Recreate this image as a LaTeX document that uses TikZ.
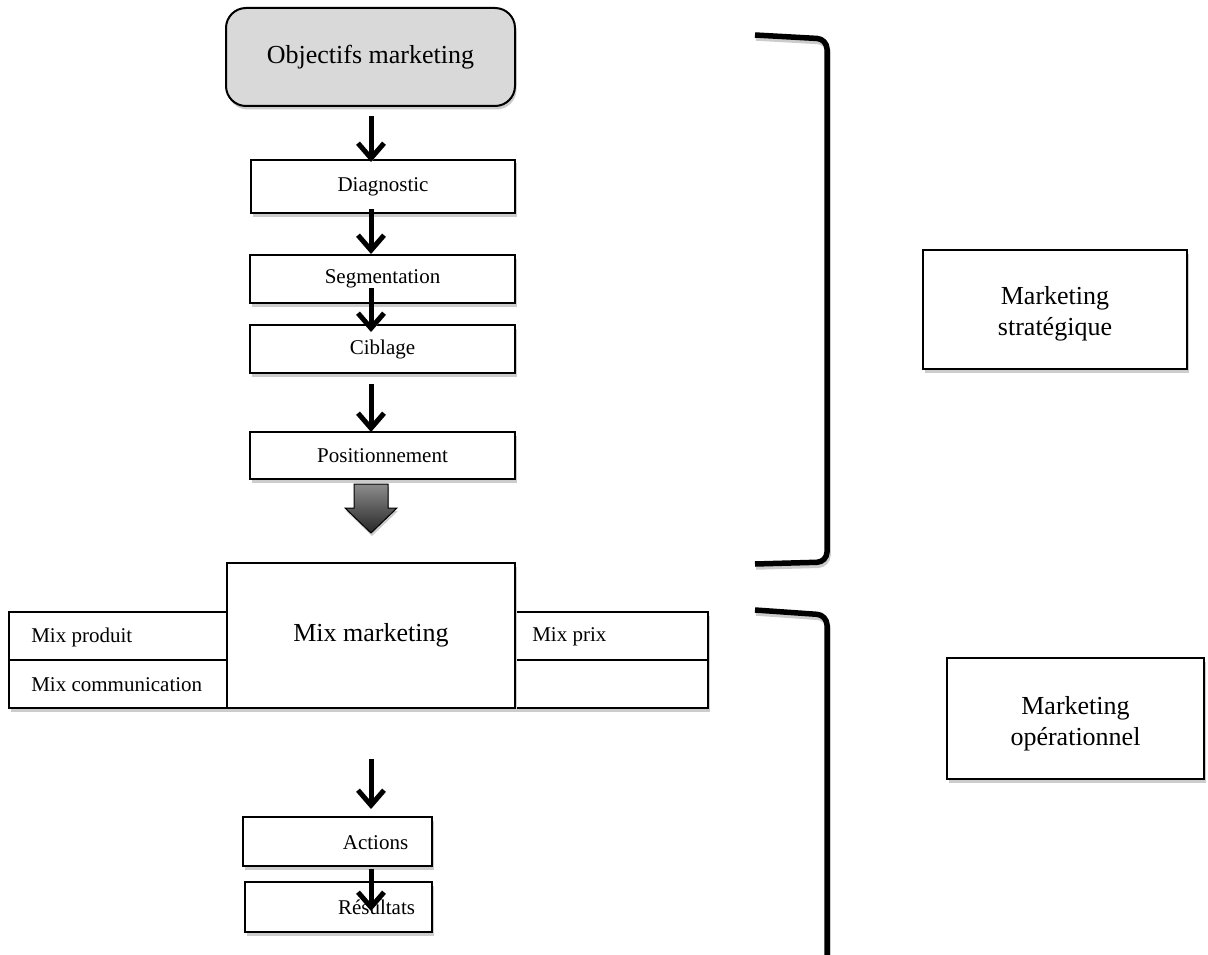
\documentclass[tikz,border=0pt]{standalone}
\usepackage{fontspec}
\setmainfont{Liberation Serif}
\usetikzlibrary{arrows.meta,shadows,calc}
\newcommand\fontBig{\fontsize{26}{31}\selectfont}
\newcommand\fontSm{\fontsize{21}{25}\selectfont}
\begin{document}
\begin{tikzpicture}[x=1pt,y=-1pt,
  shade box/.style={drop shadow={shadow xshift=1.5pt,shadow yshift=-3.5pt,fill=black!20,opacity=1}},
  box/.style={draw=black,line width=2pt,fill=white,inner sep=0pt,align=center,shade box},
  small/.style={font=\fontSm},
  large/.style={font=\fontBig},
  mixbox/.style={box,line width=1.8pt},
  lbl/.style={inner sep=0pt,font=\fontSm},
  biglbl/.style={inner sep=0pt,font=\fontBig,align=center},
  arr/.style={line width=5pt,-{Straight Barb[length=15pt,width=26pt]},
    preaction={draw=black!22,transform canvas={xshift=1pt,yshift=-2.5pt}}},
  brk/.style={line width=5.5pt,rounded corners=10pt},
  brkshade/.style={brk,draw=black!20}
]
\useasboundingbox (0,0) rectangle (1208,955);

% strategic chain
\node[box,rounded corners=20pt,fill=black!15,minimum width=289pt,minimum height=98pt,large]
  (obj) at (370.5,57) {Objectifs marketing};
\node[box,small,minimum width=264pt,minimum height=53pt] (diag) at (383,186.5) {Diagnostic};
\node[box,small,minimum width=265pt,minimum height=48pt] (seg) at (382.5,279) {Segmentation};
\node[box,small,minimum width=265pt,minimum height=48pt] (cib) at (382.5,349) {Ciblage};
\node[box,small,minimum width=265pt,minimum height=47pt] (pos) at (382.5,455.5) {Positionnement};

% marketing mix: four side cells behind the central box
\node[mixbox,minimum width=218pt,minimum height=48pt] (mprod) at (118,636) {};
\node[mixbox,minimum width=218pt,minimum height=48pt] (mcom) at (118,684) {};
\node[mixbox,minimum width=193pt,minimum height=48pt] (mprix) at (611.5,636) {};
\node[mixbox,minimum width=193pt,minimum height=48pt] (mvide) at (611.5,684) {};
\node[lbl,anchor=west] (mprodT) at ($(mprod.west)+(23,1)$) {Mix produit};
\node[lbl,anchor=west] (mcomT) at ($(mcom.west)+(23,1)$) {Mix communication};
\node[lbl,anchor=west] (mprixT) at ($(mprix.west)+(18,1)$) {Mix prix};
\node[box,line width=1.8pt,large,minimum width=288pt,minimum height=145pt] (mix) at (371,635.5) {Mix marketing};

% operational chain
\node[box,minimum width=189pt,minimum height=49pt] (act) at (337.5,841.5) {};
\node[lbl] (actT) at (375.5,843) {Actions};
\node[box,minimum width=187pt,minimum height=50pt] (res) at (338.5,907) {};
\node[lbl] (resT) at (376.5,907) {Résultats};

% side labels
\node[box,line width=2.4pt,minimum width=264pt,minimum height=119pt] (ms) at (1055,309.5) {};
\node[biglbl] (msT) at ($(ms.center)+(0,4)$) {Marketing\\stratégique};
\node[box,line width=2.4pt,minimum width=257pt,minimum height=121pt] (mo) at (1075.5,718.5) {};
\node[biglbl] (moT) at ($(mo.center)+(0,5)$) {Marketing\\opérationnel};

% arrow column
\coordinate (ax) at (371,0);
\draw[arr] ($(ax |- obj.south)+(0,9)$) -- ($(ax |- diag.north)+(0,3)$);
\draw[arr] ($(ax |- diag.south)+(0,-5)$) -- (ax |- seg.north);
\draw[arr] ($(ax |- seg.south)+(0,-16)$) -- ($(ax |- cib.north)+(0,8)$);
\draw[arr] ($(ax |- cib.south)+(0,10)$) -- ($(ax |- pos.north)+(0,1)$);
\draw[arr] ($(ax |- mix.south)+(0,50)$) -- ($(ax |- act.north)+(0,-7)$);
\draw[arr] ($(ax |- act.south)+(0,2)$) -- ($(ax |- res.north)+(0,30)$);

% block arrow from positioning to the mix
\coordinate (bt) at ($(ax |- pos.south)+(0,4)$);
\begin{scope}[shift={(bt)}]
  \fill[black!20] (-16,3) -- (18,3) -- (18,27) -- (27,27) -- (1,52) -- (-25,27) -- (-16,27) -- cycle;
  \path[draw=black,line width=1pt,top color=black!45,bottom color=black!85]
    (-17,0) -- (17,0) -- (17,24) -- (26,24) -- (0,49) -- (-26,24) -- (-17,24) -- cycle;
\end{scope}

% brackets
\draw[brkshade] (756,38) -- (828,42) -- (828,565) -- (756,567);
\draw[brk] (755,35) -- (827,39) -- (827,562) -- (755,564);
\draw[brkshade] (756,613) -- (828,618) -- (828,965);
\draw[brk] (755,610) -- (827,615) -- (827,965);
\end{tikzpicture}
\end{document}
